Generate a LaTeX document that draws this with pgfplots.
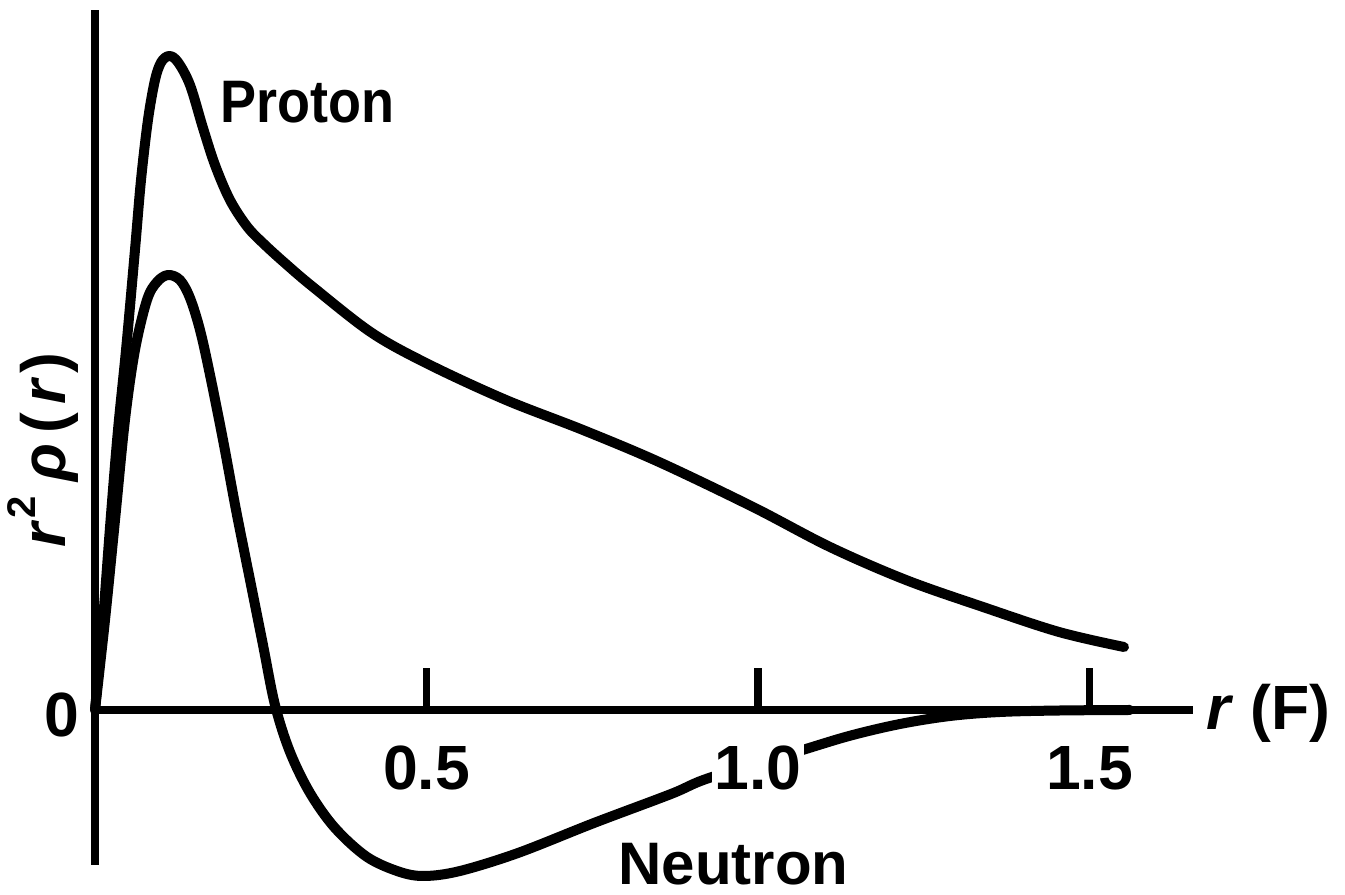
\documentclass[border=0pt]{standalone}
\usepackage{fontspec}
\setmainfont{Liberation Sans}
\usepackage{pgfplots}
\pgfplotsset{compat=1.18}

\pgfplotsset{
  density curve/.style={black, line width=4pt, line cap=round, line join=round,
    smooth, tension=0.55, mark=none},
}

\begin{document}
\begin{tikzpicture}
% fixed frame of the figure, origin of the axes at (0,0)
\useasboundingbox (-38pt,-74pt) rectangle (500pt,284pt);
\begin{axis}[
  at={(0,0)}, anchor=origin,
  x=265.2pt, y=40pt,
  xmin=0, xmax=1.656, ymin=-1.55, ymax=7.0,
  axis lines=middle,
  axis line style={line width=3.4pt, -},
  xtick=\empty, ytick=\empty,
  clip=false,
  enlargelimits=false,
]
% proton charge density r^2 rho(r)
\addplot[density curve] coordinates {
  (0,0) (0.0121,0.90) (0.0235,1.90) (0.0347,2.80) (0.0468,3.60)
  (0.0603,4.60) (0.0694,5.30) (0.0799,5.90) (0.0905,6.30) (0.100,6.48)
  (0.112,6.54) (0.125,6.48) (0.1433,6.25) (0.1629,5.82) (0.1810,5.45)
  (0.2036,5.10) (0.2300,4.83) (0.2564,4.65) (0.2880,4.46) (0.3288,4.23)
  (0.4178,3.77) (0.5053,3.45) (0.6199,3.10) (0.7360,2.80) (0.8507,2.48)
  (0.9925,2.03) (1.1086,1.63) (1.2232,1.30) (1.3394,1.03) (1.4540,0.78)
  (1.5520,0.63)
};
% neutron charge density r^2 rho(r)
\addplot[density curve] coordinates {
  (0,0) (0.0151,0.90) (0.0302,1.90) (0.0452,2.90) (0.0603,3.60)
  (0.0784,4.10) (0.0935,4.28) (0.1101,4.35) (0.1282,4.30) (0.1433,4.12)
  (0.1584,3.80) (0.1735,3.35) (0.1931,2.70) (0.2127,2.00) (0.2338,1.30)
  (0.2534,0.65) (0.2715,0.05) (0.2941,-0.42) (0.3243,-0.83) (0.3620,-1.18)
  (0.4103,-1.47) (0.4600,-1.62) (0.4977,-1.66) (0.5505,-1.61) (0.6380,-1.43)
  (0.7526,-1.13) (0.8688,-0.84) (0.9261,-0.68) (1.0573,-0.42) (1.1373,-0.26)
  (1.2142,-0.14) (1.2896,-0.06) (1.3650,-0.02) (1.4555,-0.005) (1.5611,0)
};
% ticks on the r axis, pointing up
\draw[line width=3pt] (axis cs:0.5,0) -- (axis cs:0.5,0.42);
\draw[line width=3pt] (axis cs:1.0,0) -- (axis cs:1.0,0.42);
\draw[line width=3pt] (axis cs:1.5,0) -- (axis cs:1.5,0.42);
\begin{scope}[font=\bfseries\fontsize{25}{30}\selectfont]
  \node[anchor=base, fill=white, inner sep=1pt] at (axis cs:0.5,-0.80) {0.5};
  \node[anchor=base, fill=white, inner sep=1pt] at (axis cs:1.0,-0.80) {1.0};
  \node[anchor=base, fill=white, inner sep=1pt] at (axis cs:1.5,-0.80) {1.5};
  \node[anchor=base] at (axis cs:-0.0498,-0.27) {0};
  \node[anchor=base west, inner sep=0pt] at (axis cs:1.675,-0.20) {\itshape r\upshape\kern8pt(F)};
  \node[rotate=90, anchor=center] at (axis cs:-0.0784,2.60)
    {{\itshape r}\kern2pt\raisebox{0.9ex}{\fontsize{16}{16}\selectfont 2}\kern6pt{\itshape ρ}\kern4pt(\kern3pt{\itshape r}\kern3pt)};
\end{scope}
\begin{scope}[font=\bfseries\fontsize{24}{28}\selectfont]
  \node[anchor=base west, inner sep=0pt, xscale=0.9] at (axis cs:0.1885,5.87) {Proton};
  \node[anchor=base west, inner sep=0pt] at (axis cs:0.789,-1.75) {Neutron};
\end{scope}
\end{axis}
\end{tikzpicture}
\end{document}
